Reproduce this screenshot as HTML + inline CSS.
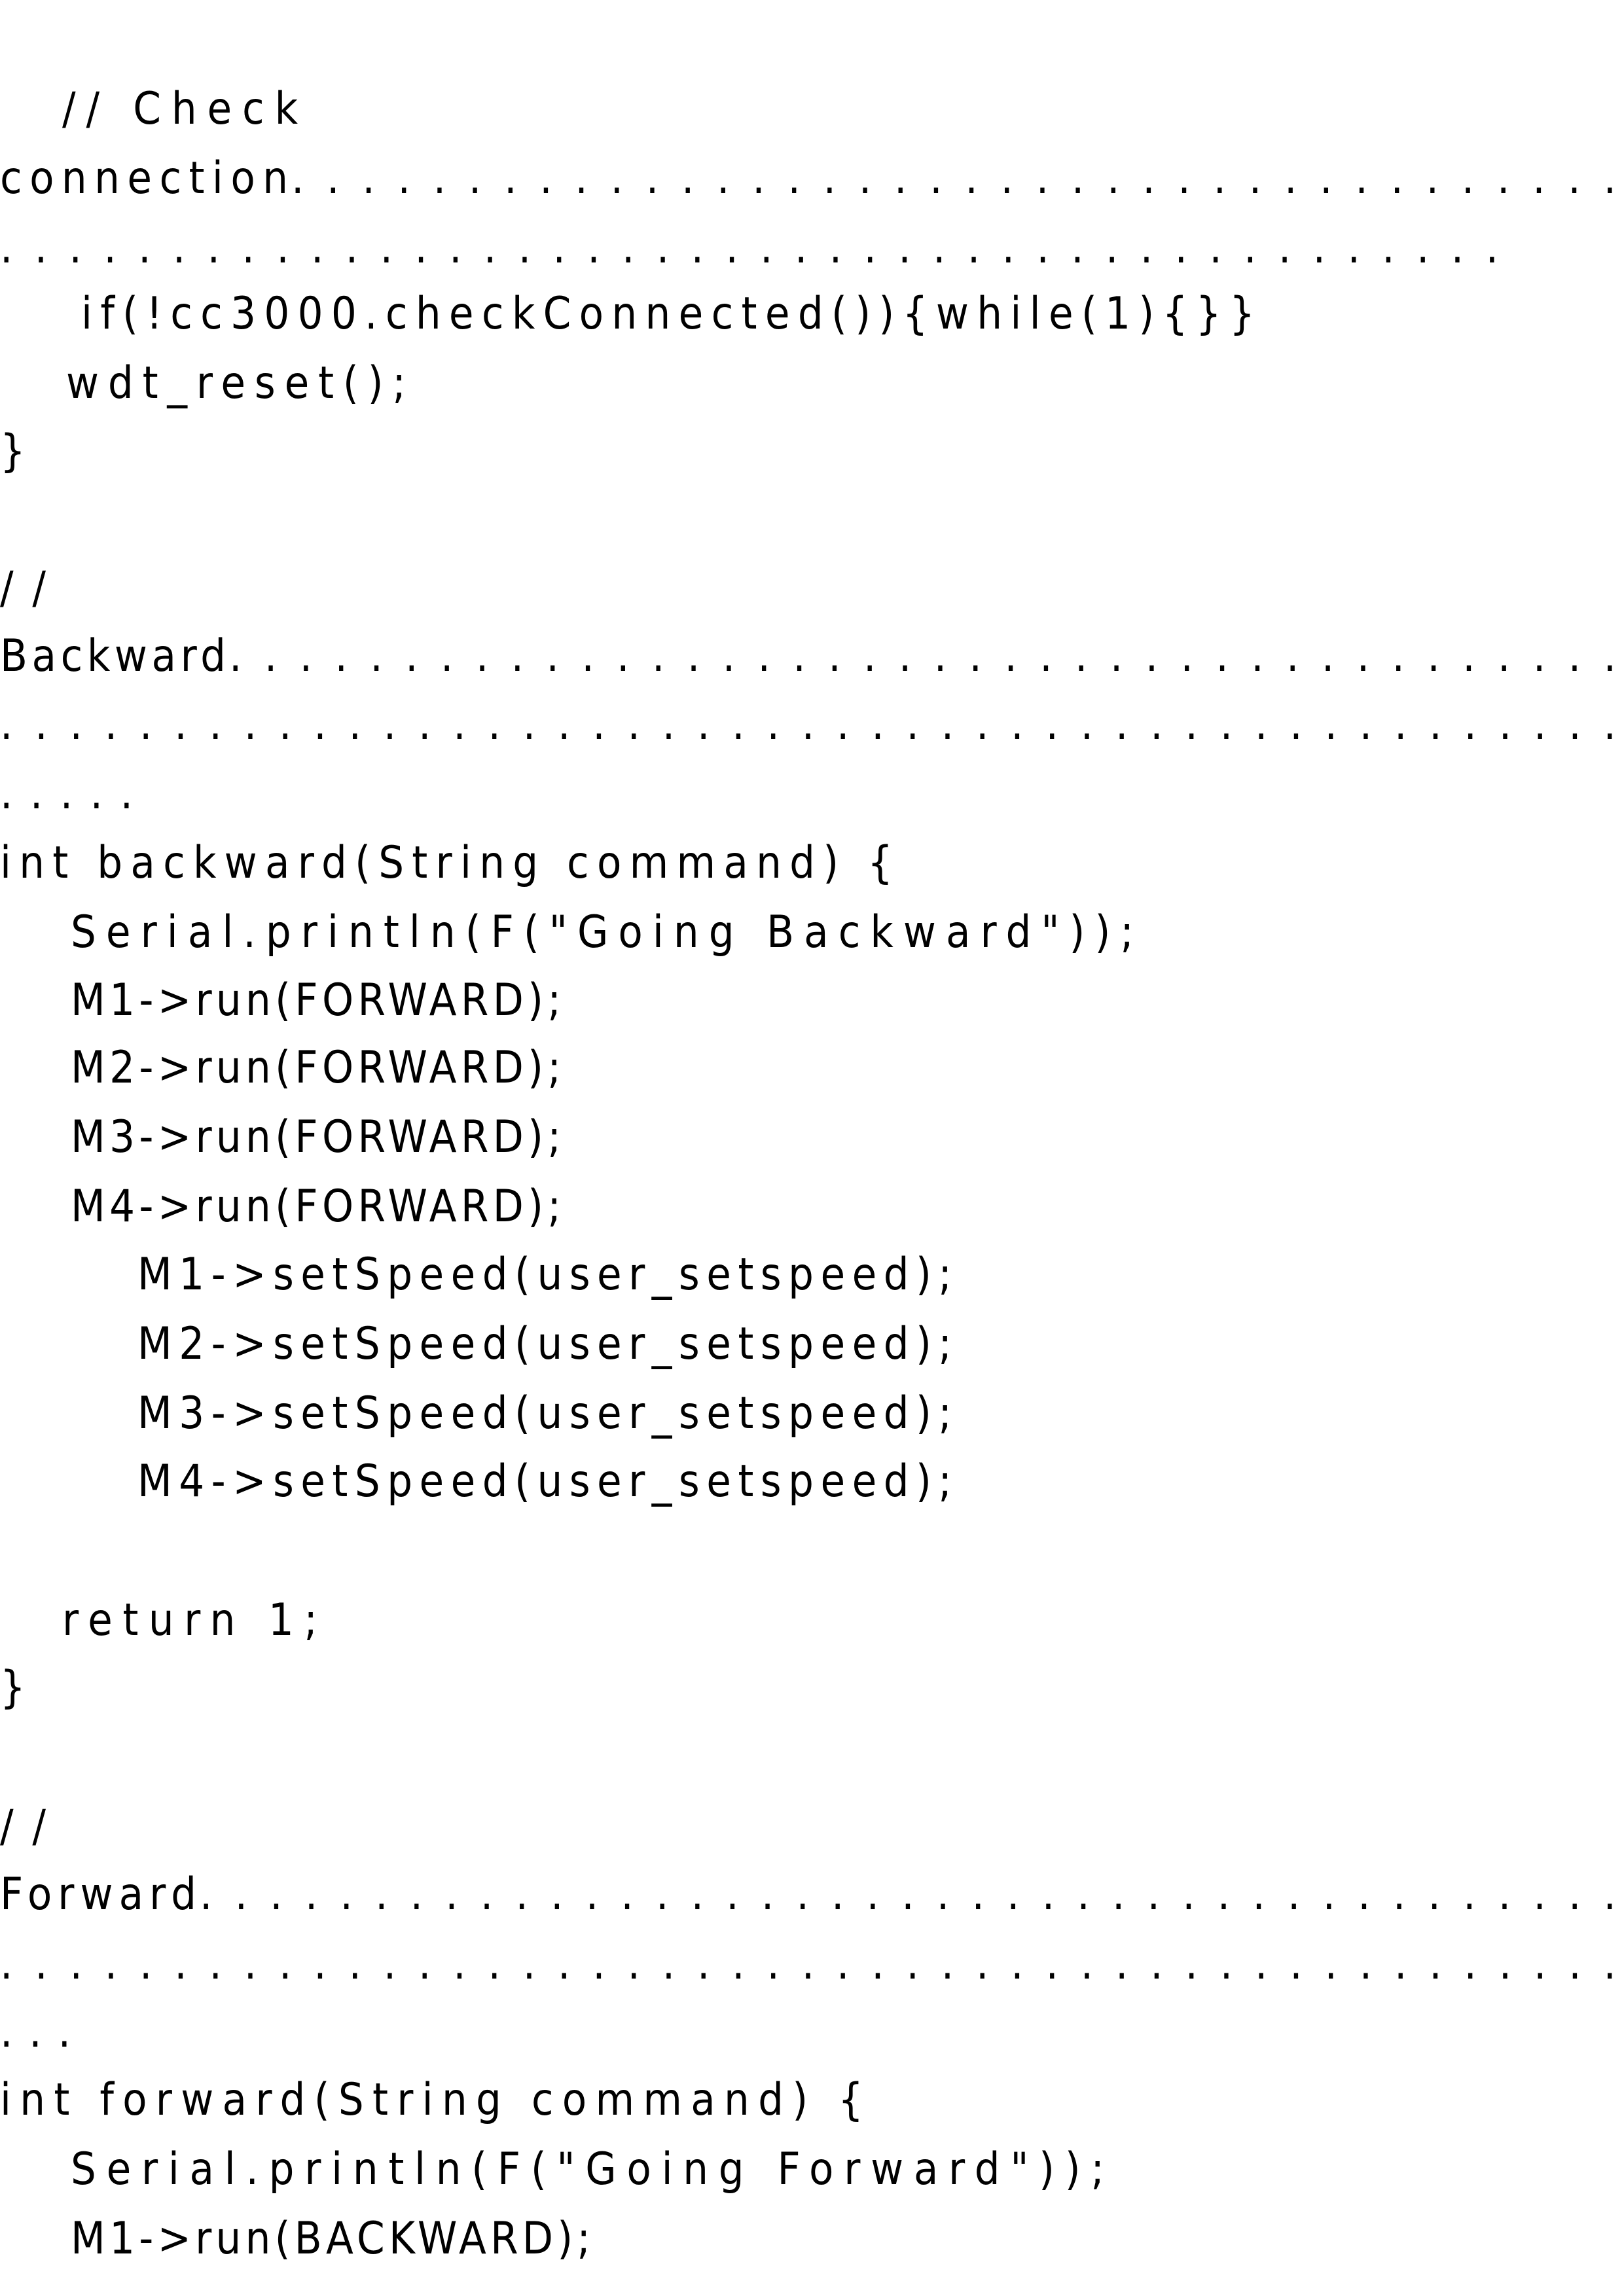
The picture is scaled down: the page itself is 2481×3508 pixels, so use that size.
<!DOCTYPE html>
<html><head><meta charset="utf-8"><style>html,body{margin:0;padding:0;background:#fff}svg{display:block}</style></head>
<body>
<svg width="2481" height="3508" viewBox="0 0 2481 3508" xmlns="http://www.w3.org/2000/svg" font-family="DejaVu Sans Condensed, DejaVu Sans, Liberation Sans, sans-serif" font-size="68" fill="#000" xml:space="preserve">
<text x="95" y="189" textLength="360" lengthAdjust="spacing">// Check</text>
<text x="0" y="295" textLength="440" lengthAdjust="spacing">connection</text>
<text x="445" y="295" textLength="2024" lengthAdjust="spacing">......................................</text>
<text x="0" y="401" textLength="2289" lengthAdjust="spacing">............................................</text>
<text x="124" y="502" textLength="1793" lengthAdjust="spacing">if(!cc3000.checkConnected()){while(1){}}</text>
<text x="101" y="608" textLength="519" lengthAdjust="spacing">wdt_reset();</text>
<text x="0" y="712">}</text>
<text x="0" y="921" textLength="70" lengthAdjust="spacing">//</text>
<text x="0" y="1025" textLength="345" lengthAdjust="spacing">Backward</text>
<text x="350" y="1025" textLength="2119" lengthAdjust="spacing">........................................</text>
<text x="0" y="1129" textLength="2469" lengthAdjust="spacing">...............................................</text>
<text x="0" y="1235" textLength="203" lengthAdjust="spacing">.....</text>
<text x="0" y="1341" textLength="1364" lengthAdjust="spacing">int backward(String command) {</text>
<text x="108" y="1447" textLength="1624" lengthAdjust="spacing">Serial.println(F("Going Backward"));</text>
<text x="108" y="1551" textLength="749" lengthAdjust="spacing">M1-&gt;run(FORWARD);</text>
<text x="108" y="1654" textLength="749" lengthAdjust="spacing">M2-&gt;run(FORWARD);</text>
<text x="108" y="1760" textLength="749" lengthAdjust="spacing">M3-&gt;run(FORWARD);</text>
<text x="108" y="1866" textLength="749" lengthAdjust="spacing">M4-&gt;run(FORWARD);</text>
<text x="210" y="1970" textLength="1244" lengthAdjust="spacing">M1-&gt;setSpeed(user_setspeed);</text>
<text x="210" y="2076" textLength="1244" lengthAdjust="spacing">M2-&gt;setSpeed(user_setspeed);</text>
<text x="210" y="2182" textLength="1244" lengthAdjust="spacing">M3-&gt;setSpeed(user_setspeed);</text>
<text x="210" y="2286" textLength="1244" lengthAdjust="spacing">M4-&gt;setSpeed(user_setspeed);</text>
<text x="95" y="2498" textLength="390" lengthAdjust="spacing">return 1;</text>
<text x="0" y="2601">}</text>
<text x="0" y="2813" textLength="70" lengthAdjust="spacing">//</text>
<text x="0" y="2917" textLength="300" lengthAdjust="spacing">Forward</text>
<text x="305" y="2917" textLength="2164" lengthAdjust="spacing">.........................................</text>
<text x="0" y="3023" textLength="2469" lengthAdjust="spacing">...............................................</text>
<text x="0" y="3127" textLength="108" lengthAdjust="spacing">...</text>
<text x="0" y="3231" textLength="1319" lengthAdjust="spacing">int forward(String command) {</text>
<text x="108" y="3337" textLength="1579" lengthAdjust="spacing">Serial.println(F("Going Forward"));</text>
<text x="108" y="3443" textLength="794" lengthAdjust="spacing">M1-&gt;run(BACKWARD);</text>
</svg>
</body></html>
